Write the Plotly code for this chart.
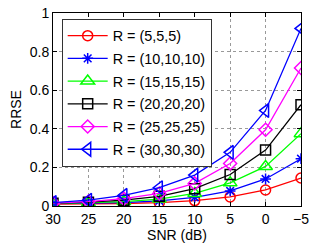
import plotly.graph_objects as go

snr = [30, 25, 20, 15, 10, 5, 0, -5]
names = ["R = (5,5,5)", "R = (10,10,10)", "R = (15,15,15)", "R = (20,20,20)", "R = (25,25,25)", "R = (30,30,30)"]
r5 = [0.010, 0.011, 0.013, 0.017, 0.028, 0.047, 0.083, 0.145]
r10 = [0.012, 0.014, 0.018, 0.027, 0.045, 0.078, 0.140, 0.245]
r15 = [0.013, 0.017, 0.023, 0.036, 0.065, 0.120, 0.205, 0.375]
r20 = [0.014, 0.020, 0.030, 0.050, 0.090, 0.163, 0.290, 0.525]
r25 = [0.015, 0.023, 0.038, 0.065, 0.117, 0.220, 0.395, 0.715]
r30 = [0.018, 0.030, 0.055, 0.095, 0.160, 0.278, 0.495, 0.920]
series = [r5, r10, r15, r20, r25, r30]
colors = ["#ff0000", "#0000ff", "#00ff00", "#000000", "#ff00ff", "#0000ff"]
symbols = ["circle-open", "asterisk-open", "triangle-up-open", "square-open", "diamond-open", "triangle-left-open"]
sizes = [10, 9, 12, 10, 10, 12]
xticks = [30, 25, 20, 15, 10, 5, 0, -5]
xticktext = ["30", "25", "20", "15", "10", "5", "0", "\u22125"]
yticks = [0, 0.2, 0.4, 0.6, 0.8, 1]
yticktext = ["0", "0.2", "0.4", "0.6", "0.8", "1"]

fig = go.Figure()
for i, (n, ys, c, s, sz) in enumerate(zip(names, series, colors, symbols, sizes)):
    fig.add_trace(go.Scatter(
        x=snr, y=ys, name=n, mode="lines+markers", legendgroup="g%d" % i,
        line=dict(color=c, width=1.3),
        marker=dict(symbol=s, size=sz, color=c, line=dict(color=c, width=1.5)),
    ))

fam = "Liberation Sans, Arial, Helvetica, sans-serif"
font = dict(family=fam, size=14, color="#000")
axis_common = dict(
    showline=True, linecolor="#000", linewidth=1, mirror="ticks",
    ticks="inside", ticklen=4, tickcolor="#000",
    showgrid=True, gridcolor="#999999", griddash="dot", gridwidth=1,
    zeroline=False, tickfont=font, automargin=False,
)
fig.update_layout(
    width=332, height=248,
    margin=dict(l=53, r=31, t=13, b=42),
    paper_bgcolor="white", plot_bgcolor="white",
    font=font,
    showlegend=True,
    legend=dict(
        x=0.035, y=0.97, xanchor="left", yanchor="top",
        bgcolor="white", bordercolor="#333", borderwidth=1,
        font=dict(family=fam, size=14.4, color="#000"),
        tracegroupgap=1, itemwidth=40,
    ),
    xaxis=dict(axis_common, range=[30, -5], tickvals=xticks, ticktext=xticktext,
               title=dict(text="SNR (dB)", font=font, standoff=2)),
    yaxis=dict(axis_common, range=[0, 1], tickvals=yticks, ticktext=yticktext,
               title=dict(text="RRSE", font=font, standoff=4)),
)
fig.write_html("out.html", config={"displayModeBar": False},
               post_script="document.body.style.margin='0';document.body.style.overflow='hidden';")
